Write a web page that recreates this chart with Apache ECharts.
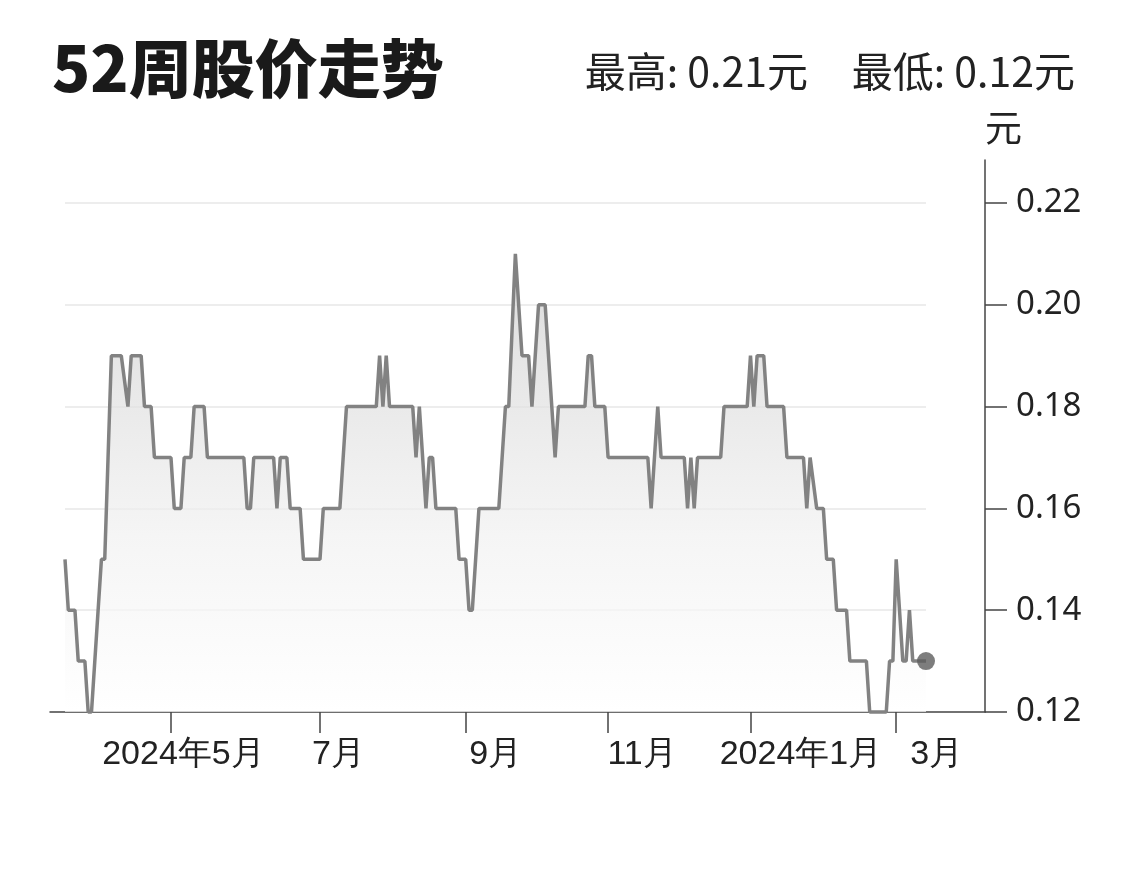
<!DOCTYPE html>
<html>
<head>
<meta charset="utf-8">
<script src="https://cdn.jsdelivr.net/npm/echarts@6/dist/echarts.min.js"></script>
<style>
html,body{margin:0;padding:0;background:#fff;}
#chart{width:1140px;height:881px;}
</style>
</head>
<body>
<div id="chart"></div>
<script>
// ---- data ----
const titleText = '52周股价走势';
const unitText = '元';
const startDate = '2023-03-16';
const endDate = '2024-03-14';
// daily closing price (trading days)
const prices = [
  0.15,0.14,0.14,0.14,0.13,0.13,0.13,0.12,0.12,0.13,
  0.14,0.15,0.15,0.17,0.19,0.19,0.19,0.19,0.185,0.18,
  0.19,0.19,0.19,0.19,0.18,0.18,0.18,0.17,0.17,0.17,
  0.17,0.17,0.17,0.16,0.16,0.16,0.17,0.17,0.17,0.18,
  0.18,0.18,0.18,0.17,0.17,0.17,0.17,0.17,0.17,0.17,
  0.17,0.17,0.17,0.17,0.17,0.16,0.16,0.17,0.17,0.17,
  0.17,0.17,0.17,0.17,0.16,0.17,0.17,0.17,0.16,0.16,
  0.16,0.16,0.15,0.15,0.15,0.15,0.15,0.15,0.16,0.16,
  0.16,0.16,0.16,0.16,0.17,0.18,0.18,0.18,0.18,0.18,
  0.18,0.18,0.18,0.18,0.18,0.19,0.18,0.19,0.18,0.18,
  0.18,0.18,0.18,0.18,0.18,0.18,0.17,0.18,0.17,0.16,
  0.17,0.17,0.16,0.16,0.16,0.16,0.16,0.16,0.16,0.15,
  0.15,0.15,0.14,0.14,0.15,0.16,0.16,0.16,0.16,0.16,
  0.16,0.16,0.17,0.18,0.18,0.195,0.21,0.20,0.19,0.19,
  0.19,0.18,0.19,0.20,0.20,0.20,0.19,0.18,0.17,0.18,
  0.18,0.18,0.18,0.18,0.18,0.18,0.18,0.18,0.19,0.19,
  0.18,0.18,0.18,0.18,0.17,0.17,0.17,0.17,0.17,0.17,
  0.17,0.17,0.17,0.17,0.17,0.17,0.17,0.16,0.17,0.18,
  0.17,0.17,0.17,0.17,0.17,0.17,0.17,0.17,0.16,0.17,
  0.16,0.17,0.17,0.17,0.17,0.17,0.17,0.17,0.17,0.18,
  0.18,0.18,0.18,0.18,0.18,0.18,0.18,0.19,0.18,0.19,
  0.19,0.19,0.18,0.18,0.18,0.18,0.18,0.18,0.17,0.17,
  0.17,0.17,0.17,0.17,0.16,0.17,0.165,0.16,0.16,0.16,
  0.15,0.15,0.15,0.14,0.14,0.14,0.14,0.13,0.13,0.13,
  0.13,0.13,0.13,0.12,0.12,0.12,0.12,0.12,0.12,0.13,
  0.13,0.15,0.14,0.13,0.13,0.14,0.13,0.13,0.13,0.13,0.13
];
const tickMonths = ['2023-05','2023-07','2023-09','2023-11','2024-01','2024-03'];
const tickLabels = ['2024年5月','7月','9月','11月','2024年1月','3月'];
const yTicks = [0.12,0.14,0.16,0.18,0.20,0.22];
const yMin = 0.12, yMax = 0.22;

// ---- build categories (trading days) ----
function tradingDays(s, e) {
  const out = [];
  let d = new Date(s + 'T00:00:00Z');
  const end = new Date(e + 'T00:00:00Z');
  while (d <= end) {
    const w = d.getUTCDay();
    if (w !== 0 && w !== 6) out.push(d.toISOString().slice(0, 10));
    d = new Date(d.getTime() + 86400000);
  }
  return out;
}
const dates = tradingDays(startDate, endDate);
const hi = Math.max(...prices), lo = Math.min(...prices);
function isTick(index, value) {
  if (index === 0) return false;
  const m = String(value).slice(0, 7);
  return dates[index - 1].slice(0, 7) !== m && tickMonths.indexOf(m) >= 0;
}
const labelShift = [25, 37, 60, 68, 101, 81];
const rich = {};
labelShift.forEach((p, k) => {
  rich['l' + k] = {
    fontSize: 34, color: '#222',
    fontFamily: '"Liberation Sans","Noto Sans",sans-serif',
    padding: [0, 0, 0, p]
  };
});

const chart = echarts.init(document.getElementById('chart'), null, {renderer: 'canvas'});
const plotTop = 203, plotBottom = 169;
// frame axis extends above the plot: compute its max from the same scale
const frameTop = 160;
const pxPerUnit = (881 - plotBottom - plotTop) / (yMax - yMin);
const frameMax = yMin + (881 - plotBottom - frameTop) / pxPerUnit;

chart.setOption({
  animation: false,
  backgroundColor: '#fff',
  title: [
    {text: titleText, left: 47, top: 32,
     textStyle: {fontSize: 63, fontWeight: 900, color: '#1a1a1a', fontFamily: '"Noto Sans CJK SC",sans-serif'}},
    {text: '最高: ' + hi.toFixed(2) + unitText, right: 327, top: 46,
     textStyle: {fontSize: 41, fontWeight: 'normal', color: '#222', fontFamily: '"Noto Sans CJK SC",sans-serif'}},
    {text: '最低: ' + lo.toFixed(2) + unitText, right: 60, top: 46,
     textStyle: {fontSize: 41, fontWeight: 'normal', color: '#222', fontFamily: '"Noto Sans CJK SC",sans-serif'}}
  ],
  grid: [
    {left: 65, right: 214, top: plotTop, bottom: plotBottom},
    {left: 50, right: 155, top: frameTop, bottom: plotBottom}
  ],
  xAxis: [
    {
      gridIndex: 0, type: 'category', data: dates, boundaryGap: false,
      axisLine: {show: false, onZero: false},
      axisTick: {show: true, interval: isTick, length: 21, lineStyle: {color: '#444', width: 1.5}},
      axisLabel: {
        interval: isTick, margin: 26,
        formatter: (v) => { const k = tickMonths.indexOf(String(v).slice(0, 7)); return '{l' + k + '|' + tickLabels[k] + '}'; },
        rich: rich
      },
      splitLine: {show: false}
    },
    {
      gridIndex: 1, type: 'value', min: 0, max: 1,
      axisLine: {show: true, onZero: false, lineStyle: {color: '#444', width: 1.5}},
      axisTick: {show: false}, axisLabel: {show: false}, splitLine: {show: false}
    }
  ],
  yAxis: [
    {
      gridIndex: 0, type: 'value', min: yMin, max: yMax, interval: 0.02,
      axisLine: {show: false, onZero: false}, axisTick: {show: false}, axisLabel: {show: false},
      splitLine: {show: true, lineStyle: {color: '#ededed', width: 2}}
    },
    {
      gridIndex: 1, type: 'value', position: 'right', min: yMin, max: frameMax,
      axisLine: {show: true, onZero: false, lineStyle: {color: '#444', width: 1.5}},
      axisTick: {show: true, inside: false, length: 22, customValues: yTicks, lineStyle: {color: '#444', width: 1.5}},
      axisLabel: {show: true, customValues: yTicks, margin: 31, fontSize: 33, color: '#222',
        fontFamily: '"Noto Sans","Open Sans",sans-serif', formatter: (v) => v.toFixed(2)},
      splitLine: {show: false},
      name: unitText, nameLocation: 'end', nameGap: 14,
      nameTextStyle: {fontSize: 37, color: '#222', align: 'left', fontFamily: '"Noto Sans CJK SC",sans-serif'}
    }
  ],
  series: [
    {
      type: 'line', xAxisIndex: 0, yAxisIndex: 0, data: prices,
      showSymbol: false, symbol: 'none', clip: false,
      lineStyle: {color: '#828282', width: 3.5},
      areaStyle: {
        origin: 'start',
        color: new echarts.graphic.LinearGradient(0, 0, 0, 1, [
          {offset: 0, color: '#cdcdcd'},
          {offset: 0.3, color: '#dfdfdf'},
          {offset: 0.62, color: '#f1f1f1'},
          {offset: 1, color: '#ffffff'}
        ])
      },
      z: 3
    },
    {
      type: 'scatter', xAxisIndex: 0, yAxisIndex: 0,
      data: [[dates[dates.length - 1], prices[prices.length - 1]]],
      symbolSize: 18, itemStyle: {color: '#5c5c5c'}, z: 4
    }
  ]
});
</script>
</body>
</html>
